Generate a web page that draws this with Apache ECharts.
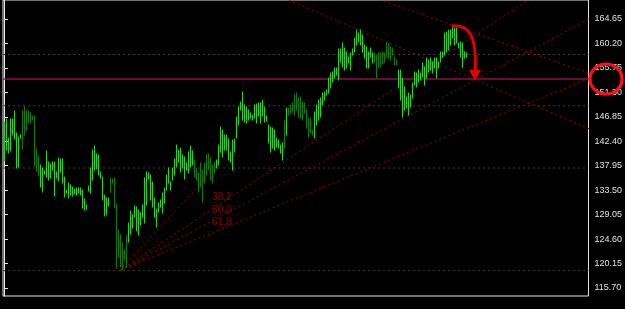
<!DOCTYPE html>
<html><head><meta charset="utf-8">
<script src="https://cdn.jsdelivr.net/npm/echarts@6/dist/echarts.min.js"></script>
<style>html,body{margin:0;padding:0;background:#000}#c{width:625px;height:309px}</style>
</head><body><div id="c"></div>
<script>
// Bar highs (value) per bar index
const highs = [145.91,146.45,142.99,146.45,146.45,147.91,143.90,143.18,143.54,147.91,
148.64,147.91,147.91,147.54,147.00,147.00,140.99,139.72,138.08,137.53,
136.99,140.63,138.63,138.26,138.63,138.63,136.81,139.35,139.17,139.17,
135.90,133.53,134.80,134.44,134.08,133.71,133.89,133.89,133.89,133.53,
131.89,130.80,134.26,137.53,140.81,141.54,140.08,139.90,136.81,135.90,
132.62,132.07,132.07,135.71,135.53,135.71,130.98,126.25,125.34,123.88,
122.61,125.16,127.52,129.71,128.98,130.62,130.44,129.89,129.34,130.80,
135.71,136.81,136.62,136.26,134.99,132.07,130.07,131.16,131.71,132.98,
133.89,136.26,137.53,134.99,137.53,139.17,141.72,140.81,141.17,139.90,
139.54,138.44,140.45,141.54,140.63,138.99,137.53,136.62,138.44,137.17,
138.44,139.90,140.08,139.35,138.08,138.63,138.99,141.72,144.99,144.45,
143.54,143.54,142.81,140.45,142.63,142.81,146.82,148.64,149.55,151.37,
149.00,148.64,148.09,147.54,147.18,149.00,149.18,149.36,149.36,149.91,
148.64,147.00,145.36,144.99,144.81,144.45,142.99,142.63,141.72,142.08,
146.27,148.45,148.45,149.00,149.36,150.82,151.18,150.27,150.46,149.55,
149.36,148.09,146.63,146.63,144.45,147.73,149.00,149.91,150.27,151.18,
151.37,151.73,153.91,154.82,155.01,155.73,155.73,159.19,159.19,160.28,
159.37,158.65,157.74,158.46,159.19,161.19,162.65,162.10,162.65,161.74,
159.92,159.56,158.65,159.37,158.46,158.46,158.10,158.46,158.46,158.65,
158.46,160.28,160.28,159.56,159.37,157.74,157.19,155.37,155.37,153.91,
152.28,150.46,151.18,150.82,153.00,155.01,154.82,155.37,154.82,156.64,
155.92,157.55,157.19,157.55,156.83,157.55,157.55,156.83,158.65,158.65,
162.10,162.29,162.65,162.65,163.20,163.01,163.01,160.28,160.47,160.28,
158.65,158.46];
// Bar lows (value) per bar index
const lows = [138.81,140.81,140.26,140.63,143.54,142.81,137.53,137.72,142.99,140.99,
143.54,144.45,145.72,145.72,146.27,137.90,136.99,136.08,134.08,133.17,
136.44,135.90,135.35,135.71,137.17,132.44,135.71,135.17,136.81,134.80,
132.26,132.98,132.07,132.62,132.44,132.80,132.62,132.98,132.62,130.25,
129.89,130.07,133.35,132.98,135.35,137.17,137.35,136.26,135.71,131.71,
128.80,128.98,130.62,133.17,134.80,130.25,119.33,121.34,119.52,118.97,
120.79,119.52,124.07,125.52,126.61,128.62,126.07,125.34,127.16,128.62,
127.52,130.80,135.53,131.71,130.44,128.62,126.80,129.53,130.44,129.34,
131.16,133.53,134.80,133.53,135.35,136.26,137.72,138.63,136.81,137.53,
135.53,137.17,136.62,137.72,138.08,135.90,135.35,133.17,134.08,131.35,
134.80,136.26,137.17,135.35,134.80,136.62,137.53,138.08,140.45,139.54,
140.81,140.81,138.99,138.63,137.17,140.45,142.99,145.36,148.09,146.27,
145.91,145.72,146.27,146.63,146.27,146.63,145.72,147.00,145.72,147.00,
145.91,146.09,142.08,140.45,141.17,140.81,141.36,141.17,140.26,138.99,
141.17,143.54,147.18,147.54,147.73,147.18,148.09,146.82,146.63,146.27,
147.54,144.81,143.18,143.90,143.54,142.99,145.36,146.27,146.82,149.00,
149.91,150.82,151.18,152.09,153.19,153.91,154.46,153.55,156.83,155.92,
155.37,155.73,156.64,155.37,158.10,158.65,159.92,160.47,159.92,158.65,
157.55,155.73,155.73,157.74,156.64,156.83,153.91,155.73,155.92,156.64,
156.83,157.74,157.55,157.19,158.10,156.28,156.28,152.09,149.91,146.82,
148.09,148.45,147.18,148.64,150.27,152.64,152.28,153.19,153.55,154.10,
152.64,153.91,155.01,155.37,154.82,155.73,153.91,155.73,156.83,157.74,
158.10,158.65,159.01,159.92,161.19,159.92,160.28,159.37,157.74,155.92,
157.55,157.74];
// 1 = dark green bar, 0 = bright green bar
const darkBars = [0,0,0,0,0,0,0,0,0,1,1,1,1,1,1,1,1,1,0,0,
0,0,0,0,0,0,0,0,0,0,0,0,0,0,0,0,0,0,0,0,
0,0,0,0,0,0,0,0,0,0,0,0,0,1,1,1,1,1,1,1,
1,1,0,0,0,0,0,0,0,0,0,0,0,0,0,0,0,0,0,0,
0,0,0,0,0,0,0,0,0,0,0,0,0,0,0,1,1,1,1,1,
1,1,1,1,1,1,0,0,0,0,0,0,0,0,0,0,0,0,0,0,
0,0,0,0,0,0,0,0,0,0,0,0,0,0,0,0,0,0,0,0,
1,0,1,1,1,1,1,1,1,1,1,1,1,1,1,0,0,0,0,0,
0,0,0,0,0,0,0,0,0,0,0,0,0,0,0,0,0,0,0,0,
0,0,0,0,0,1,1,1,1,1,1,1,1,1,1,1,1,0,0,0,
0,0,0,0,0,0,0,0,0,0,0,0,0,0,0,0,0,0,0,0,
0,0,0,0,0,0,0,0,0,0,0,0];
const yTicks = [115.70,120.15,124.60,129.05,133.50,137.95,142.40,146.85,151.30,155.75,160.20,164.65];
const dashLevels = [158.19,148.87,137.53,118.85];
const priceLine = 153.73, priceLabel = '153.53';
const blueLevel = 157.48;
// Fibonacci fan: origin and line end points [barIndex, value]
const fanOrigin = [58, 118.9];
const fanBase = [106, 137.6];
const fanEnds = [[292.5, 175.37],[292.5, 164.58],[292.5, 153.79]];
const fanNames = ['38.2','50.0','61.8'];
const fanLabelPos = [[109, 132.17],[109, 129.89],[109, 127.61]];
// descending trend lines
const downLines = [[[138, 168.84],[293, 144.63]], [[183, 168.84],[293, 154.73]]];

const XMIN = -0.5, XMAX = 292.5, YMIN = 114.24, YMAX = 168.11;
const barData = highs.map((h,i)=>[i, lows[i], h, darkBars[i]]);
const fanRed = '#a00000';
const series = [];
series.push({
  type:'custom', data: barData, clip:true, z:3,
  renderItem: function(params, api){
    const lo = api.coord([api.value(0), api.value(1)]);
    const hi = api.coord([api.value(0), api.value(2)]);
    const x = Math.round(lo[0]) + 0.5;
    return {type:'line', shape:{x1:x, y1:Math.round(lo[1])+0.5, x2:x, y2:Math.round(hi[1])-0.5},
      style:{stroke: api.value(3) ? '#0a7d0a' : '#1fd81f', lineWidth:1}};
  }
});
dashLevels.forEach(v=>series.push({type:'line', data:[[XMIN,v],[XMAX,v]], symbol:'none', silent:true, z:1,
  lineStyle:{color:'#3c3c3c', width:1, type:[2,3]}}));
series.push({type:'line', data:[fanOrigin, fanBase], symbol:'none', silent:true, z:2,
  lineStyle:{color:fanRed, width:1, type:[2,3]}});
fanEnds.forEach(e=>series.push({type:'line', data:[fanOrigin, e], symbol:'none', silent:true, z:2,
  lineStyle:{color:fanRed, width:1, type:[2,3]}}));
downLines.forEach(l=>series.push({type:'line', data:l, symbol:'none', silent:true, z:2,
  lineStyle:{color:fanRed, width:1, type:[2,3]}}));
series.push({type:'scatter', data: fanLabelPos.map((p,i)=>[p[0],p[1],fanNames[i]]), symbolSize:0, z:4, silent:true,
  label:{show:true, position:'inside', formatter:p=>p.value[2], color:'#a80000', fontSize:10, fontFamily:'Arial'}});
series.push({type:'line', data:[[XMIN,priceLine],[XMAX,priceLine]], symbol:'none', silent:true, z:2,
  lineStyle:{color:'#8c0f45', width:1.5},
  markLine:{silent:true, symbol:'none', animation:false, lineStyle:{opacity:0},
    data:[{yAxis:priceLine, label:{show:true, position:'end', distance:2, formatter:priceLabel, color:'#6060ff', backgroundColor:'#3a0a66', padding:[2,1,1,2], fontSize:9, fontFamily:'Arial'}},
          {yAxis:blueLevel, label:{show:true, position:'end', distance:6, formatter:String(blueLevel), color:'#1818ff', fontSize:9, fontFamily:'Arial'}}]}});

const chart = echarts.init(document.getElementById('c'), null, {renderer:'canvas'});
chart.setOption({
  backgroundColor:'#000', animation:false,
  grid:{left:3, right:35, top:0, bottom:13, show:true, borderColor:'#e8e8e8', borderWidth:1, backgroundColor:'transparent'},
  xAxis:{type:'value', min:XMIN, max:XMAX, show:true, axisLine:{show:false}, axisTick:{show:false}, axisLabel:{show:false}, splitLine:{show:false}},
  yAxis:{type:'value', position:'right', min:YMIN, max:YMAX, splitLine:{show:false},
    axisLine:{show:true, lineStyle:{color:'#e8e8e8'}},
    axisTick:{show:true, length:4, lineStyle:{color:'#e8e8e8'}, customValues:yTicks},
    axisLabel:{show:true, color:'#e0e0e0', fontSize:9, fontFamily:'Arial', margin:6, customValues:yTicks, formatter:v=>v.toFixed(2)}},
  series: series,
  graphic:[
    {type:'circle', shape:{cx:0, cy:0, r:15}, x:606, y:79, scaleX:1.07, style:{fill:'none', stroke:'#ff1010', lineWidth:3}, z:100},
    {type:'bezierCurve', shape:{x1:452, y1:26, cpx1:470, cpy1:24, cpx2:477, cpy2:38, x2:475, y2:71}, style:{stroke:'#e00000', lineWidth:3, fill:'none'}, z:100},
    {type:'polygon', shape:{points:[[469,70],[481,70],[475,81]]}, style:{fill:'#e00000'}, z:100}
  ]
});
</script></body></html>
